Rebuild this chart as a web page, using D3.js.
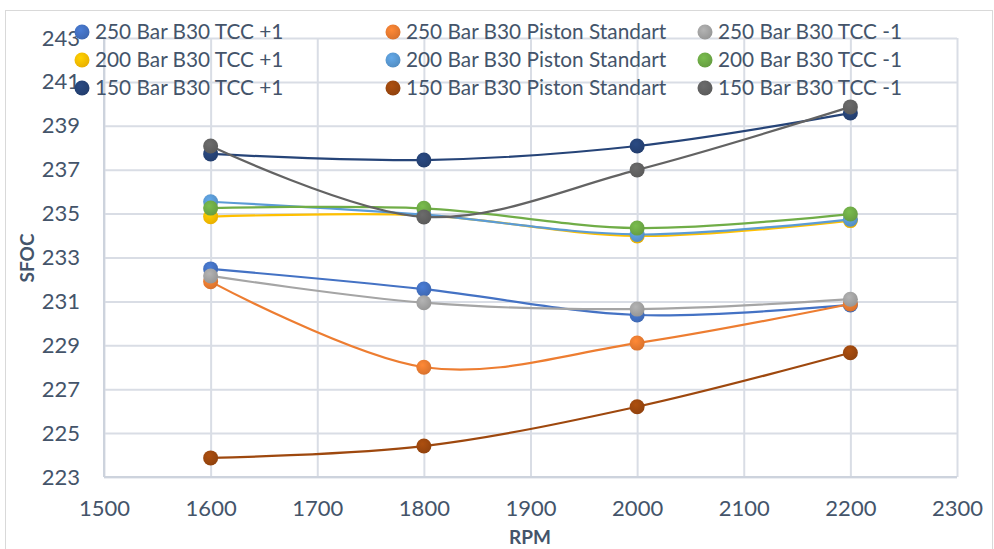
<!DOCTYPE html>
<html><head><meta charset="utf-8">
<script src="https://cdn.jsdelivr.net/npm/d3@7"></script>
<style>body{margin:0;background:#fff;} svg{display:block;font-family:Lato,"Open Sans",sans-serif;}</style>
</head><body>
<svg id="c" width="994" height="549"></svg>
<script>
const rpm = [1600, 1800, 2000, 2200];
const seriesNames = [
  "250 Bar B30 TCC +1", "250 Bar B30 Piston Standart", "250 Bar B30 TCC -1",
  "200 Bar B30 TCC +1", "200 Bar B30 Piston Standart", "200 Bar B30 TCC -1",
  "150 Bar B30 TCC +1", "150 Bar B30 Piston Standart", "150 Bar B30 TCC -1"
];
const seriesColors = ["#4472C4","#ED7D31","#A5A5A5","#FFC000","#5B9BD5","#70AD47","#264478","#9E480E","#636363"];
const bar250TccPlus = [232.48, 231.56, 230.38, 230.84];
const bar250Piston = [231.90, 228.00, 229.10, 230.88];
const bar250TccMinus = [232.16, 230.94, 230.65, 231.10];
const bar200TccPlus = [234.86, 234.92, 233.98, 234.68];
const bar200Piston = [235.54, 234.95, 234.05, 234.74];
const bar200TccMinus = [235.25, 235.24, 234.34, 234.98];
const bar150TccPlus = [237.72, 237.44, 238.08, 239.58];
const bar150Piston = [223.87, 224.41, 226.20, 228.66];
const bar150TccMinus = [238.08, 234.85, 236.99, 239.86];
const seriesValues = [bar250TccPlus, bar250Piston, bar250TccMinus, bar200TccPlus, bar200Piston, bar200TccMinus, bar150TccPlus, bar150Piston, bar150TccMinus];
const xTicks = [1500,1600,1700,1800,1900,2000,2100,2200,2300];
const yTicks = [223,225,227,229,231,233,235,237,239,241,243];

const svg = d3.select("#c");
svg.append("rect").attr("x",5.5).attr("y",10.5).attr("width",987).attr("height",560).attr("fill","#fff").attr("stroke","#D9D9D9").attr("stroke-width",1);

const x = d3.scaleLinear().domain([1500,2300]).range([104,957]);
const y = d3.scaleLinear().domain([223,243]).range([477,38]);
const gridColor = "#D9DDE5";
const textColor = "#44546A";

const g = svg.append("g");
g.append("g").attr("transform",`translate(${x.range()[0]},0)`)
  .call(d3.axisLeft(y).tickValues(yTicks).tickSize(-(x.range()[1]-x.range()[0])).tickFormat(""))
  .call(s=>s.select(".domain").remove())
  .call(s=>s.selectAll("line").attr("stroke",gridColor).attr("stroke-width",2));
g.append("g").attr("transform",`translate(0,${y.range()[0]})`)
  .call(d3.axisBottom(x).tickValues(xTicks).tickSize(-(y.range()[0]-y.range()[1])).tickFormat(""))
  .call(s=>s.select(".domain").remove())
  .call(s=>s.selectAll("line").attr("stroke",gridColor).attr("stroke-width",2));
// darker left and bottom axis lines
g.append("line").attr("x1",x.range()[0]).attr("x2",x.range()[0]).attr("y1",y.range()[1]).attr("y2",y.range()[0]).attr("stroke","#CDD3DD").attr("stroke-width",2);
g.append("line").attr("x1",x.range()[0]).attr("x2",x.range()[1]).attr("y1",y.range()[0]).attr("y2",y.range()[0]).attr("stroke","#CDD3DD").attr("stroke-width",2);

const yAx = svg.append("g").attr("transform",`translate(${x.range()[0]},0)`)
  .call(d3.axisLeft(y).tickValues(yTicks).tickSize(0).tickPadding(24).tickFormat(d3.format("d")));
yAx.select(".domain").remove();
yAx.selectAll("text").attr("fill",textColor).attr("font-size",22).attr("font-family","Lato");
const xAx = svg.append("g").attr("transform",`translate(0,${y.range()[0]})`)
  .call(d3.axisBottom(x).tickValues(xTicks).tickSize(0).tickPadding(23).tickFormat(d3.format("d")));
xAx.select(".domain").remove();
xAx.selectAll("text").attr("fill",textColor).attr("font-size",22).attr("font-family","Lato");

svg.append("text").attr("x",530).attr("y",544).attr("text-anchor","middle")
  .attr("font-size",19).attr("font-weight","bold").attr("fill",textColor).text("RPM");
svg.append("text").attr("transform","translate(34,258) rotate(-90)").attr("text-anchor","middle")
  .attr("font-size",19).attr("font-weight","bold").attr("fill",textColor).text("SFOC");

const defs = svg.append("defs");
seriesColors.forEach((c,i)=>{
  const rg = defs.append("radialGradient").attr("id","mg"+i).attr("cx","40%").attr("cy","35%").attr("r","65%");
  rg.append("stop").attr("offset","0%").attr("stop-color",d3.color(c).brighter(0.25));
  rg.append("stop").attr("offset","100%").attr("stop-color",d3.color(c).darker(0.25));
});

const line = d3.line().x((d,i)=>x(rpm[i])).y(d=>y(d)).curve(d3.curveCatmullRom.alpha(0));
seriesValues.forEach((vals,i)=>{
  const sg = svg.append("g");
  sg.append("path").attr("d",line(vals)).attr("fill","none").attr("stroke",seriesColors[i]).attr("stroke-width",2.2);
  sg.selectAll("circle").data(vals).join("circle")
    .attr("cx",(d,j)=>x(rpm[j])).attr("cy",d=>y(d)).attr("r",7.5)
    .attr("fill",`url(#mg${i})`);
});

const legX = [82, 393, 705], legY = [32, 60, 88];
const leg = svg.append("g");
seriesNames.forEach((n,i)=>{
  const col = i%3, row = Math.floor(i/3);
  leg.append("circle").attr("cx",legX[col]).attr("cy",legY[row]).attr("r",7.5).attr("fill",`url(#mg${i})`);
  leg.append("text").attr("x",legX[col]+13).attr("y",legY[row]+7).attr("font-size",20.8)
    .attr("fill",textColor).attr("font-family","Lato").text(n);
});
</script>
</body></html>
